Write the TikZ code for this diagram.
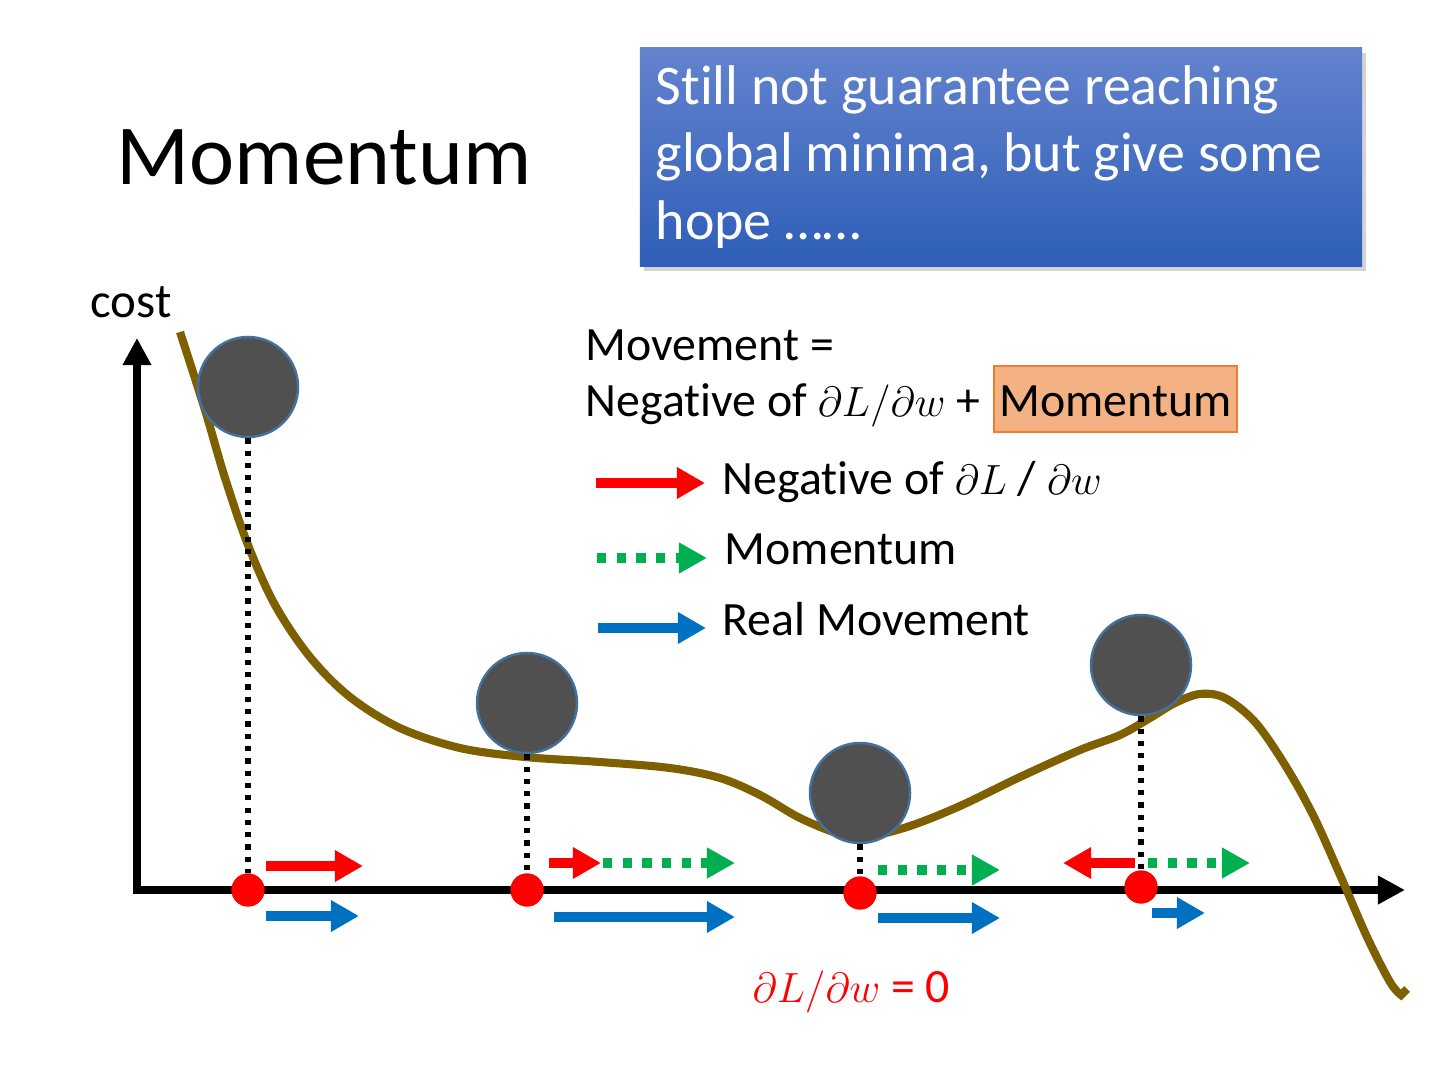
\documentclass[tikz,border=0pt]{standalone}
\usepackage{fontspec}
\setmainfont{Carlito}[Ligatures=NoCommon]
\usepackage{amsmath}
\usetikzlibrary{arrows.meta,positioning,shadows}
\definecolor{ballgray}{HTML}{505050}
\definecolor{ballrim}{HTML}{41719C}
\definecolor{curvebrown}{HTML}{7F6000}
\definecolor{gradred}{HTML}{FF0000}
\definecolor{momgreen}{HTML}{00B050}
\definecolor{realblue}{HTML}{0070C0}
\definecolor{peach}{HTML}{F4B183}
\definecolor{peachrim}{HTML}{ED7D31}
\definecolor{boxtop}{HTML}{6383CE}
\definecolor{boxbot}{HTML}{2E5EB7}
\newcommand{\mathtxt}[1]{{\fontsize{12.2pt}{16pt}\selectfont$#1$}}

\begin{document}
\begin{tikzpicture}[
    x=0.01cm, y=-0.01cm,
    axis/.style={line width=2pt, -{Triangle[length=7.7pt,width=7.7pt]}},
    costcurve/.style={draw=curvebrown, line width=2.3pt},
    ball/.style={circle, fill=ballgray, draw=ballrim, line width=0.7pt, minimum size=1cm, inner sep=0pt},
    spot/.style={circle, fill=gradred, minimum size=0.33cm, inner sep=0pt},
    drop/.style={line width=1.7pt, dash pattern=on 1.5pt off 2pt},
    gradarrow/.style={gradred, line width=2.8pt, -{Triangle[length=8pt,width=8.5pt]}},
    momarrow/.style={momgreen, line width=2.6pt, dash pattern=on 2.6pt off 3pt, -{Triangle[length=8pt,width=8.3pt]}},
    realarrow/.style={realblue, line width=2.8pt, -{Triangle[length=8pt,width=8.5pt]}},
    legendtext/.style={anchor=base west, inner sep=0pt, font=\fontsize{13.6pt}{16pt}\selectfont},
    boxtext/.style={anchor=base west, inner sep=0pt, text=white, font=\fontsize{15.9pt}{19pt}\selectfont},
    hopebox/.style={rectangle, minimum width=7.22cm, minimum height=2.18cm, top color=boxtop, bottom color=boxbot,
      drop shadow={shadow xshift=1.2pt, shadow yshift=-1.5pt, opacity=0.35}},
    peachbox/.style={anchor=base west, fill=peach, draw=peachrim, line width=0.5pt, inner xsep=1.6pt, inner ysep=0pt,
      text height=14.5pt, text depth=4.3pt, font=\fontsize{13.6pt}{16pt}\selectfont}
  ]
    \useasboundingbox (0,0) rectangle (1440,1080);
    % title and remark
    \node[anchor=base west, inner sep=0pt, font=\fontsize{24.3pt}{29pt}\selectfont] (title) at (116,185) {Momentum};
    \node[hopebox] (hope) at (1001,157) {};
    \node[boxtext] (hope1) at (655,105) {Still not guarantee reaching};
    \node[boxtext] (hope2) at (655,172) {global minima, but give some};
    \node[boxtext] (hope3) at (655,240) {hope ……};
    % axes
    \coordinate (origin) at (137,890);
    \draw[axis] (133,890) -- (1405,890);
    \draw[axis] (origin) -- (137,338);
    \node[anchor=base west, inner sep=0pt, font=\fontsize{13.9pt}{16pt}\selectfont] (cost) at (90,318) {cost};
    % error surface
    \draw[costcurve] plot[smooth, tension=0.55] coordinates {
      (180,332) (205,410) (225,478) (248,545) (275,605) (310,657) (350,697) (400,728)
      (460,748) (525,757) (600,762) (670,768) (720,778) (760,795) (800,818) (840,834)
      (870,836) (910,826) (960,806) (1020,777) (1080,750) (1120,735) (1150,718) (1175,703)
      (1200,694) (1225,698) (1255,722) (1285,765) (1313,815) (1340,875) (1367,937) (1390,982)
      (1401,995)} -- (1407,989);
    % balls
    \node[ball] (b1) at (248,387) {};
    \node[ball] (b2) at (527,703) {};
    \node[ball] (b3) at (860,793) {};
    \node[ball] (b4) at (1141,665) {};
    \node[spot] (s1) at (248,890) {};
    \node[spot] (s2) at (527,890) {};
    \node[spot] (s3) at (860,893) {};
    \node[spot] (s4) at (1141,887) {};
    \foreach \i in {1,...,4}
      \draw[drop] (b\i.south) -- (s\i.north);
    \foreach \i in {1,...,4}
      \node[spot] at (s\i) {};
    % movements
    \draw[gradarrow] (266,866) -- (363,866);
    \draw[realarrow] (266,916) -- (359,916);
    \draw[gradarrow] (549,863) -- (601,863);
    \draw[momarrow] (603,863) -- (735,863);
    \draw[realarrow] (554,917) -- (735,917);
    \draw[momarrow] (878,870) -- (1000,870);
    \draw[realarrow] (878,918) -- (1000,918);
    \draw[gradarrow] (1135,863) -- (1063,863);
    \draw[momarrow] (1148,863) -- (1250,863);
    \draw[realarrow] (1152,913) -- (1205,913);
    \node[anchor=base west, inner sep=0pt, text=gradred, font=\fontsize{13.6pt}{16pt}\selectfont] (zero) at (752,1002) {\mathtxt{\partial L/\partial w} = 0};
    % legend
    \node[legendtext] (mv) at (585,361) {Movement =};
    \node[legendtext] (neg) at (585,417) {Negative of \mathtxt{\partial L/\partial w} +};
    \node[peachbox, xshift=3.4pt] (hl) at (neg.base east) {Momentum};
    \draw[gradarrow] (596,483) -- (705,483);
    \node[legendtext] (lg1) at (722,495) {Negative of \mathtxt{\partial L} / \mathtxt{\partial w}};
    \draw[momarrow] (597,558) -- (707,558);
    \node[legendtext] (lg2) at (724,565) {Momentum};
    \draw[realarrow] (598,628) -- (706,628);
    \node[legendtext] (lg3) at (722,636) {Real Movement};
\end{tikzpicture}
\end{document}
